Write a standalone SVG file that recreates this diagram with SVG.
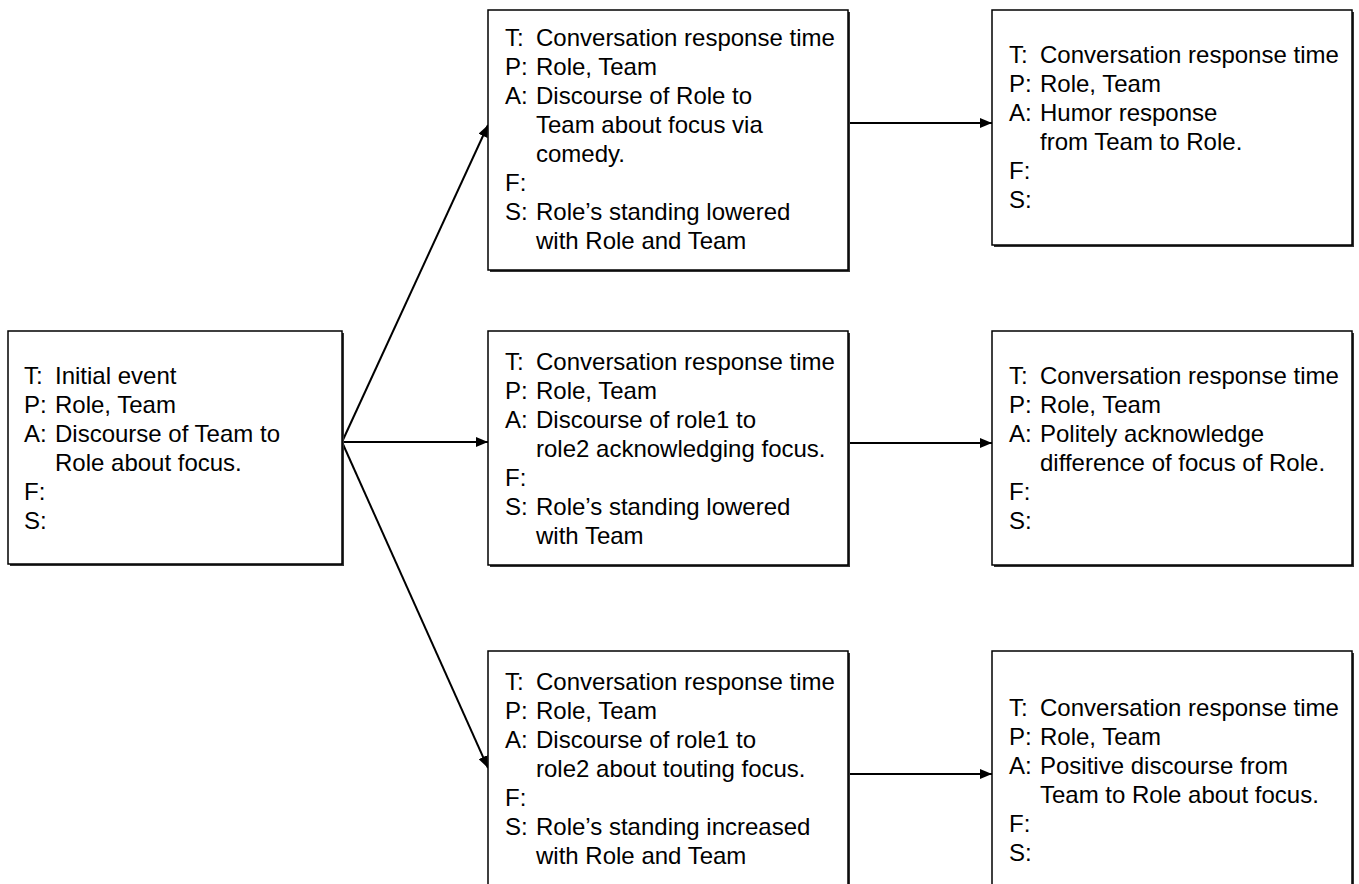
<svg xmlns="http://www.w3.org/2000/svg" width="1359" height="884" viewBox="0 0 1359 884">
<defs>
<style>
.box{fill:#ffffff;stroke:#000000;stroke-width:1.5}
.shadow{fill:#333333}
.t{font-family:"Liberation Sans",Arial,sans-serif;font-size:24px;fill:#000000}
.edge{stroke:#000000;stroke-width:2;fill:none;marker-end:url(#arrow)}
</style>
<marker id="arrow" markerUnits="userSpaceOnUse" markerWidth="12" markerHeight="10" refX="12" refY="5" orient="auto">
<path d="M0,0 L12,5 L0,10 z" fill="#000000"/>
</marker>
</defs>
<rect width="1359" height="884" fill="#ffffff"/>

<g id="connectors">
<line class="edge" x1="342" y1="442" x2="488" y2="125"/>
<line class="edge" x1="342" y1="442" x2="488" y2="442"/>
<line class="edge" x1="342" y1="442" x2="488" y2="768"/>
<line class="edge" x1="848" y1="123" x2="992" y2="123"/>
<line class="edge" x1="848" y1="443" x2="992" y2="443"/>
<line class="edge" x1="848" y1="774" x2="992" y2="774"/>
</g>

<g id="node-initial">
<rect class="shadow" x="10" y="333" width="334" height="233"/>
<rect class="box" x="8" y="331" width="334" height="233"/>
<text class="t" x="24" y="384">T:</text><text class="t" x="55" y="384">Initial event</text>
<text class="t" x="24" y="413">P:</text><text class="t" x="55" y="413">Role, Team</text>
<text class="t" x="24" y="442">A:</text><text class="t" x="55" y="442">Discourse of Team to</text>
<text class="t" x="55" y="471">Role about focus.</text>
<text class="t" x="24" y="500">F:</text>
<text class="t" x="24" y="529">S:</text>
</g>

<g id="node-comedy">
<rect class="shadow" x="490" y="12" width="360" height="260"/>
<rect class="box" x="488" y="10" width="360" height="260"/>
<text class="t" x="505" y="46">T:</text><text class="t" x="536" y="46">Conversation response time</text>
<text class="t" x="505" y="75">P:</text><text class="t" x="536" y="75">Role, Team</text>
<text class="t" x="505" y="104">A:</text><text class="t" x="536" y="104">Discourse of Role to</text>
<text class="t" x="536" y="133">Team about focus via</text>
<text class="t" x="536" y="162">comedy.</text>
<text class="t" x="505" y="191">F:</text>
<text class="t" x="505" y="220">S:</text><text class="t" x="536" y="220">Role’s standing lowered</text>
<text class="t" x="536" y="249">with Role and Team</text>
</g>

<g id="node-acknowledge">
<rect class="shadow" x="490" y="333" width="360" height="234"/>
<rect class="box" x="488" y="331" width="360" height="234"/>
<text class="t" x="505" y="370">T:</text><text class="t" x="536" y="370">Conversation response time</text>
<text class="t" x="505" y="399">P:</text><text class="t" x="536" y="399">Role, Team</text>
<text class="t" x="505" y="428">A:</text><text class="t" x="536" y="428">Discourse of role1 to</text>
<text class="t" x="536" y="457">role2 acknowledging focus.</text>
<text class="t" x="505" y="486">F:</text>
<text class="t" x="505" y="515">S:</text><text class="t" x="536" y="515">Role’s standing lowered</text>
<text class="t" x="536" y="544">with Team</text>
</g>

<g id="node-touting">
<rect class="shadow" x="490" y="653" width="360" height="236"/>
<rect class="box" x="488" y="651" width="360" height="236"/>
<text class="t" x="505" y="690">T:</text><text class="t" x="536" y="690">Conversation response time</text>
<text class="t" x="505" y="719">P:</text><text class="t" x="536" y="719">Role, Team</text>
<text class="t" x="505" y="748">A:</text><text class="t" x="536" y="748">Discourse of role1 to</text>
<text class="t" x="536" y="777">role2 about touting focus.</text>
<text class="t" x="505" y="806">F:</text>
<text class="t" x="505" y="835">S:</text><text class="t" x="536" y="835">Role’s standing increased</text>
<text class="t" x="536" y="864">with Role and Team</text>
</g>

<g id="node-humor">
<rect class="shadow" x="994" y="12" width="360" height="235"/>
<rect class="box" x="992" y="10" width="360" height="235"/>
<text class="t" x="1009" y="63">T:</text><text class="t" x="1040" y="63">Conversation response time</text>
<text class="t" x="1009" y="92">P:</text><text class="t" x="1040" y="92">Role, Team</text>
<text class="t" x="1009" y="121">A:</text><text class="t" x="1040" y="121">Humor response</text>
<text class="t" x="1040" y="150">from Team to Role.</text>
<text class="t" x="1009" y="179">F:</text>
<text class="t" x="1009" y="208">S:</text>
</g>

<g id="node-polite">
<rect class="shadow" x="994" y="333" width="360" height="234"/>
<rect class="box" x="992" y="331" width="360" height="234"/>
<text class="t" x="1009" y="384">T:</text><text class="t" x="1040" y="384">Conversation response time</text>
<text class="t" x="1009" y="413">P:</text><text class="t" x="1040" y="413">Role, Team</text>
<text class="t" x="1009" y="442">A:</text><text class="t" x="1040" y="442">Politely acknowledge</text>
<text class="t" x="1040" y="471">difference of focus of Role.</text>
<text class="t" x="1009" y="500">F:</text>
<text class="t" x="1009" y="529">S:</text>
</g>

<g id="node-positive">
<rect class="shadow" x="994" y="653" width="360" height="260"/>
<rect class="box" x="992" y="651" width="360" height="260"/>
<text class="t" x="1009" y="716">T:</text><text class="t" x="1040" y="716">Conversation response time</text>
<text class="t" x="1009" y="745">P:</text><text class="t" x="1040" y="745">Role, Team</text>
<text class="t" x="1009" y="774">A:</text><text class="t" x="1040" y="774">Positive discourse from</text>
<text class="t" x="1040" y="803">Team to Role about focus.</text>
<text class="t" x="1009" y="832">F:</text>
<text class="t" x="1009" y="861">S:</text>
</g>
</svg>
